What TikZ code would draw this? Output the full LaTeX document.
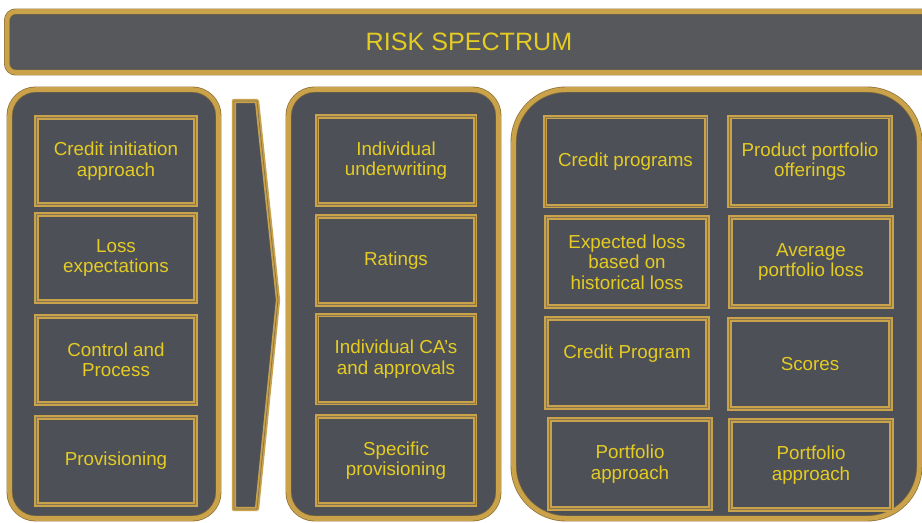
\documentclass[tikz,border=0pt]{standalone}
\usepackage{fontspec}
\setmainfont{Liberation Sans}
\usepackage{tikz}
\usetikzlibrary{positioning}
\definecolor{panelgray}{HTML}{4E5057}
\definecolor{bannergray}{HTML}{56585C}
\definecolor{goldrim}{HTML}{C9A24A}
\definecolor{darkrim}{HTML}{8A6D35}
\definecolor{textgold}{HTML}{E4CC22}
\tikzset{
  panel/.style  ={draw=darkrim,line width=0.4pt,double=goldrim,double distance=2.6pt,
                  fill=panelgray,inner sep=0pt},
  banner/.style ={panel,fill=bannergray,rounded corners=5pt,text=textgold,
                  font=\fontsize{14.3}{16}\selectfont},
  cell/.style   ={draw=goldrim,line width=1pt,double=goldrim!45!panelgray,double distance=0.45pt,
                  fill=panelgray,inner sep=0pt,align=center,text=textgold,
                  font=\fontsize{10.7}{11.6}\selectfont},
  chevron/.style={draw=goldrim,line width=1pt,double=goldrim!45!panelgray,double distance=0.45pt,
                  fill=panelgray,line join=round},
}

\begin{document}
\begin{tikzpicture}[x=0.02cm,y=-0.02cm]
  \useasboundingbox (0,0) rectangle (922,523);
  % title bar (runs off the right edge)
  \node[banner,minimum width=924*0.02cm,minimum height=61*0.02cm] (spectrum) at (469,42) {RISK SPECTRUM};
  % three columns
  \node[panel,rounded corners=15pt,minimum width=209*0.02cm,minimum height=429*0.02cm] (left)  at (114,304) {};
  \node[panel,rounded corners=15pt,minimum width=210*0.02cm,minimum height=429*0.02cm] (mid)   at (393.5,304) {};
  \node[panel,rounded corners=30pt,minimum width=406*0.02cm,minimum height=429*0.02cm] (right) at (716.5,304) {};
  % arrow between first and second column
  \draw[chevron] (234,101) -- (257,101) -- (278,300) -- (257,509) -- (234,509) -- cycle;
  % first column
  \foreach \n/\cy/\txt in {l1/161/{Credit initiation\\approach}, l2/258/{Loss\\expectations},
                           l3/360/{Control and\\Process}, l4/461/{Provisioning}}{
    \node[cell,minimum width=159*0.02cm,minimum height=87*0.02cm] (\n) at (116,\cy) {\txt};
  }
  % second column
  \foreach \n/\cy/\txt in {m1/160.5/{Individual\\underwriting}, m2/260.5/{Ratings},
                           m3/359/{Individual CA's\\and approvals}, m4/460.5/{Specific\\provisioning}}{
    \node[cell,minimum width=158*0.02cm,minimum height=88*0.02cm] (\n) at (396,\cy) {\txt};
  }
  % third column, two boxes per row
  \foreach \n/\cx/\cy/\txt in {r11/625.5/161.5/{Credit programs}, r12/810/161.5/{Product portfolio\\offerings},
                               r21/627/262/{Expected loss\\based on\\historical loss}, r22/811/262/{Average\\portfolio loss},
                               r31/627/363/{\raisebox{0.44cm}{Credit Program}}, r32/810/364/{Scores},
                               r41/630/464/{Portfolio\\approach}, r42/811/465/{Portfolio\\approach}}{
    \node[cell,minimum width=161*0.02cm,minimum height=89*0.02cm] (\n) at (\cx,\cy) {\txt};
  }
\end{tikzpicture}
\end{document}
